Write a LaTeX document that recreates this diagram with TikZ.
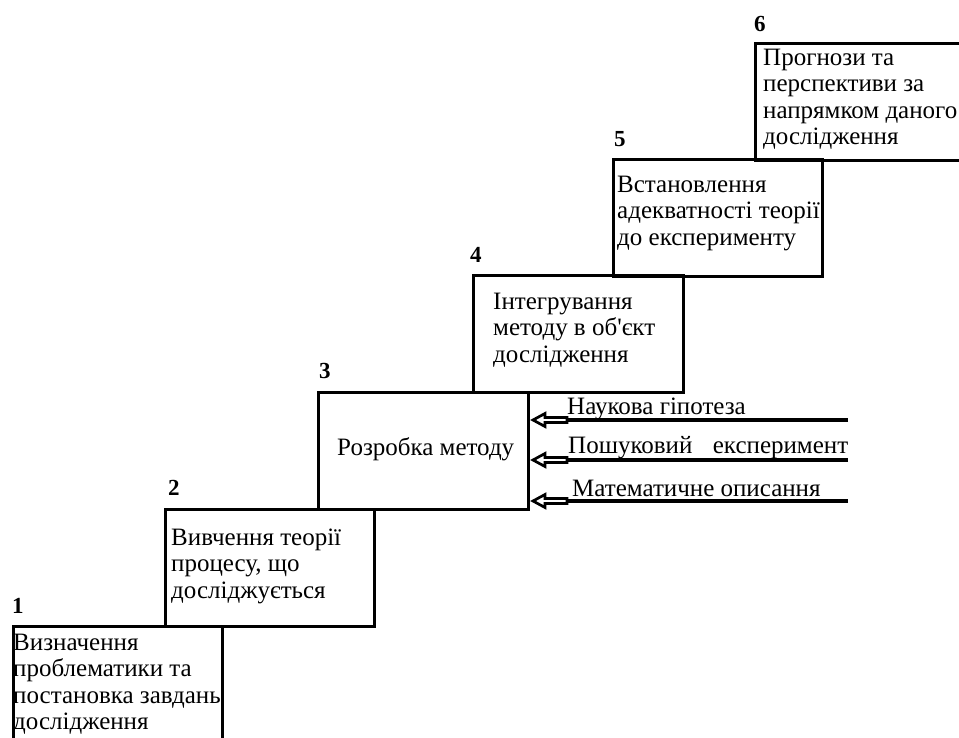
\documentclass[tikz,border=0pt]{standalone}
\usepackage{fontspec}
\setmainfont{Liberation Serif}
\begin{document}
\begin{tikzpicture}[x=1pt,y=-1pt,
  stepbox/.style={draw, line width=3pt, anchor=north west, inner sep=0pt, minimum width=209pt, minimum height=117pt},
  boxtext/.style={anchor=north west, align=left, inner sep=0pt, font=\fontsize{25}{26.5}\selectfont},
  num/.style={anchor=base west, inner sep=0pt, font=\fontsize{23}{26}\selectfont\bfseries},
  feed/.style={line width=3.5pt},
  headstyle/.style={draw, line width=2.7pt, fill=white, line join=miter},
  feedtext/.style={anchor=base west, inner sep=0pt, font=\fontsize{25}{26}\selectfont}]
\useasboundingbox (0,0) rectangle (959,738);
\clip (0,0) rectangle (959,738);

% boxes
\node[stepbox] (b1) at (12,625) {};
\node[stepbox] (b2) at (164,508) {};
\node[stepbox, minimum width=210pt] (b3) at (317,391) {};
\node[stepbox, minimum width=210pt] (b4) at (472,274) {};
\node[stepbox] (b5) at (612,158) {};
\node[stepbox] (b6) at (754,42) {};

% numbers
\node[num] (n1) at (12,613) {1};
\node[num] (n2) at (168,495) {2};
\node[num] (n3) at (319,378) {3};
\node[num] (n4) at (470,262) {4};
\node[num] (n5) at (614,147) {5};
\node[num] (n6) at (754,32) {6};

% texts (top = first baseline - strut height 18.55)
\node[boxtext] (t1) at (13,631.5) {\strut Визначення\\проблематики та\\постановка завдань\\дослідження};
\node[boxtext] (t2) at (171,526.5) {\strut Вивчення теорії\\процесу, що\\досліджується};
\node[boxtext] (t3) at (337,436.5) {\strut Розробка методу};
\node[boxtext] (t4) at (493,290.5) {\strut Інтегрування\\методу в об\textquotesingle єкт\\дослідження};
\node[boxtext] (t5) at (617,173.5) {\strut Встановлення\\адекватності теорії\\до експерименту};
\node[boxtext] (t6) at (763,46.5) {\strut Прогнози та\\перспективи за\\напрямком даного\\дослідження};

% feeding arrows
\coordinate (s1) at (848,420);
\coordinate (s2) at (848,460);
\coordinate (s3) at (848,501);
\foreach \s in {s1,s2,s3}{
  \coordinate (e\s) at (b3.east |- \s);
  \coordinate (tip\s) at ([xshift=3pt]e\s);
  \draw[feed] (\s) -- ([xshift=34pt]tip\s);
  \draw[headstyle] (tip\s) -- ++(12,-6.5) -- ++(0,4) -- ++(22,0) -- ++(0,5) -- ++(-22,0) -- ++(0,4) -- cycle;
}

\node[feedtext] (l1) at (567,414) {Наукова гіпотеза};
\node[feedtext] (l2) at (568,453) {\hbox to 280pt{Пошуковий\hfill експеримент}};
\node[feedtext] (l3) at (572,496) {Математичне описання};
\end{tikzpicture}
\end{document}
